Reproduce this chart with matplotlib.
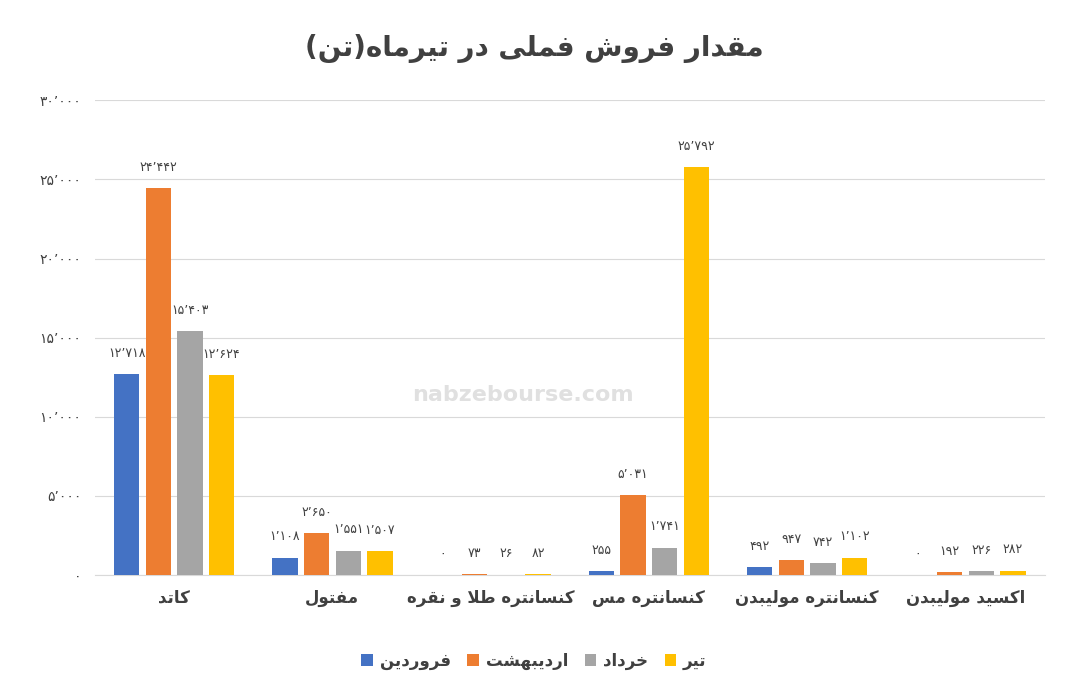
import matplotlib
matplotlib.use("Agg")
import matplotlib.pyplot as plt
import numpy as np

categories = ["کاتد", "مفتول", "کنسانتره طلا و نقره", "کنسانتره مس", "کنسانتره مولیبدن", "اکسید مولیبدن"]
series_names = ["فروردین", "اردیبهشت", "خرداد", "تیر"]
farvardin = [12718, 1108, 0, 255, 492, 0]
ordibehesht = [24442, 2650, 73, 5031, 947, 192]
khordad = [15403, 1551, 26, 1741, 742, 226]
tir = [12624, 1507, 82, 25792, 1102, 282]
title = "مقدار فروش فملی در تیرماه(تن)"
yticks = [0, 5000, 10000, 15000, 20000, 25000, 30000]
colors = ["#4472C4", "#ED7D31", "#A5A5A5", "#FFC000"]

FORMS = {
 'ا': (0xFE8D, 0xFE8E, None, None), 'ب': (0xFE8F, 0xFE90, 0xFE91, 0xFE92),
 'ت': (0xFE95, 0xFE96, 0xFE97, 0xFE98), 'خ': (0xFEA5, 0xFEA6, 0xFEA7, 0xFEA8),
 'د': (0xFEA9, 0xFEAA, None, None), 'ر': (0xFEAD, 0xFEAE, None, None),
 'س': (0xFEB1, 0xFEB2, 0xFEB3, 0xFEB4), 'ش': (0xFEB5, 0xFEB6, 0xFEB7, 0xFEB8),
 'ط': (0xFEC1, 0xFEC2, 0xFEC3, 0xFEC4), 'ف': (0xFED1, 0xFED2, 0xFED3, 0xFED4),
 'ق': (0xFED5, 0xFED6, 0xFED7, 0xFED8), 'ل': (0xFEDD, 0xFEDE, 0xFEDF, 0xFEE0),
 'م': (0xFEE1, 0xFEE2, 0xFEE3, 0xFEE4), 'ن': (0xFEE5, 0xFEE6, 0xFEE7, 0xFEE8),
 'ه': (0xFEE9, 0xFEEA, 0xFEEB, 0xFEEC), 'و': (0xFEED, 0xFEEE, None, None),
 'ک': (0xFB8E, 0xFB8F, 0xFB90, 0xFB91), 'ی': (0xFBFC, 0xFBFD, 0xFBFE, 0xFBFF),
 'LA': (0xFEFB, 0xFEFC, None, None),
}

def shape(s):
    toks = []
    i = 0
    while i < len(s):
        if s[i] == 'ل' and i + 1 < len(s) and s[i+1] == 'ا':
            toks.append('LA'); i += 2
        else:
            toks.append(s[i]); i += 1
    out = []
    for k, t in enumerate(toks):
        if t not in FORMS:
            out.append({'(': ')', ')': '('}.get(t, t)); continue
        f = FORMS[t]
        prev = toks[k-1] if k > 0 else None
        nxt = toks[k+1] if k + 1 < len(toks) else None
        pj = prev in FORMS and FORMS[prev][2] is not None
        nj = nxt in FORMS and f[2] is not None
        if pj and nj: c = f[3]
        elif pj: c = f[1]
        elif nj: c = f[2]
        else: c = f[0]
        out.append(chr(c))
    return ''.join(out[::-1])

def fa_num(v):
    s = f"{int(v):,}".replace(",", "٬")
    return s.translate(str.maketrans("0123456789", "۰۱۲۳۴۵۶۷۸۹"))

plt.rcParams['font.family'] = ['DejaVu Sans']
fig = plt.figure(figsize=(10.68, 6.92), dpi=100)
ax = fig.add_axes([0.089, 0.169, 0.889, 0.686])
x = np.arange(len(categories))
w = 0.16
data = [farvardin, ordibehesht, khordad, tir]
for i, (vals, c, n) in enumerate(zip(data, colors, series_names)):
    pos = x + (i - 1.5) * w * 1.25
    ax.bar(pos, vals, w, color=c, label=shape(n), zorder=3)
    for p, v in zip(pos, vals):
        ax.text(p, v + 900, fa_num(v), ha='center', va='bottom', fontsize=9, color='#404040')
ax.set_ylim(0, 30000)
ax.set_xlim(-0.5, len(categories) - 0.5)
ax.set_yticks(yticks)
ax.set_yticklabels([fa_num(v) for v in yticks], fontsize=10, color='#404040')
ax.set_xticks(x)
ax.set_xticklabels([shape(c) for c in categories], fontsize=12, fontweight='bold', color='#404040')
ax.grid(axis='y', color='#D9D9D9', zorder=0)
for sp in ['top', 'right', 'left']:
    ax.spines[sp].set_visible(False)
ax.spines['bottom'].set_color('#D9D9D9')
ax.tick_params(length=0, pad=10)
fig.text(0.5, 0.93, shape(title), ha='center', va='center', fontsize=20, fontweight='bold', color='#404040')
fig.text(0.49, 0.42, "nabzebourse.com", ha='center', fontsize=16, color='#E0E0E0', fontweight='bold', zorder=0)
leg = fig.legend(loc='lower center', bbox_to_anchor=(0.5, 0.01), ncol=4, frameon=False, fontsize=12,
                 handlelength=0.7, handleheight=0.7, columnspacing=1.0, handletextpad=0.4)
for t in leg.get_texts():
    t.set_fontweight('bold'); t.set_color('#404040')
fig.savefig("out.png", dpi=100)
